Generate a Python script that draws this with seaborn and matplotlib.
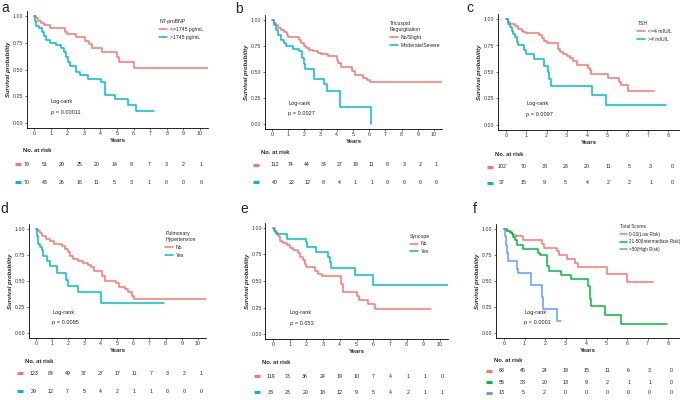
"""
Kaplan-Meier panels a-f with number-at-risk tables
"""
import matplotlib
matplotlib.use("Agg")
import pandas as pd
import matplotlib.pyplot as plt
import seaborn as sns

sns.set_theme(style="ticks")
plt.rcParams['font.family'] = ['Liberation Sans', 'DejaVu Sans']

W, H = 685, 400
RED, CYAN, GREEN, BLUE = "#F8766D", "#00BFC4", "#00BA38", "#619CFF"

# ---------------- data ----------------
# a: NT-proBNP
a_labels = ["<=1745 pg/mL", ">1745 pg/mL"]
a_low_t = [0, 0.1, 0.25, 0.45, 0.6, 0.95, 1.85, 2.0, 2.55, 3.05, 3.3, 3.5, 4.1, 5.0, 5.15, 6.0]
a_low_s = [1.0, 0.98, 0.95, 0.93, 0.92, 0.89, 0.85, 0.83, 0.80, 0.77, 0.74, 0.70, 0.66, 0.62, 0.57, 0.51]
a_low_end = 10.5
a_high_t = [0, 0.05, 0.1, 0.3, 0.5, 0.6, 0.75, 0.95, 1.35, 1.65, 1.8, 1.95, 2.05, 2.15, 2.55, 2.75,
            3.25, 4.05, 4.25, 4.9, 5.65, 6.15]
a_high_s = [1.0, 0.95, 0.91, 0.89, 0.85, 0.81, 0.78, 0.75, 0.73, 0.70, 0.66, 0.62, 0.57, 0.53, 0.48, 0.45,
            0.41, 0.38, 0.26, 0.22, 0.17, 0.11]
a_high_end = 7.25
a_risk = [[79, 51, 29, 25, 20, 14, 9, 7, 3, 2, 1],
          [70, 43, 26, 16, 11, 5, 3, 1, 0, 0, 0]]

# b: Tricuspid regurgitation
b_labels = ["No/Slight", "Moderate/Severe"]
b_low_t = [0, 0.15, 0.25, 0.4, 0.55, 0.75, 0.9, 1.0, 1.65, 1.8, 1.95, 2.1, 2.3, 2.5, 2.85, 3.05, 3.45,
           4.0, 4.1, 4.25, 4.95, 5.15, 5.6, 5.85, 6.05]
b_low_s = [1.0, 0.97, 0.95, 0.92, 0.90, 0.88, 0.86, 0.84, 0.81, 0.78, 0.75, 0.73, 0.71, 0.70, 0.68, 0.67, 0.65,
           0.62, 0.59, 0.55, 0.51, 0.47, 0.44, 0.42, 0.40]
b_low_end = 10.5
b_high_t = [0, 0.1, 0.27, 0.4, 0.53, 0.72, 0.88, 1.3, 1.65, 1.85, 1.98, 2.05, 2.57, 3.2, 3.4, 4.2, 6.13]
b_high_s = [1.0, 0.95, 0.90, 0.86, 0.81, 0.78, 0.75, 0.72, 0.70, 0.63, 0.58, 0.53, 0.43, 0.38, 0.32, 0.16, 0.0]
b_high_end = 6.13
b_risk = [[112, 74, 44, 34, 27, 18, 11, 8, 3, 2, 1],
          [40, 22, 12, 8, 4, 1, 1, 0, 0, 0, 0]]

# c: TSH
c_labels = ["<=4 mIU/L", ">4 mIU/L"]
c_low_t = [0, 0.08, 0.2, 0.44, 0.6, 0.77, 0.85, 1.0, 1.65, 1.8, 1.9, 2.0, 2.55, 2.65, 2.8, 3.0, 3.15, 3.3,
           3.5, 4.05, 4.15, 4.2, 5.05, 5.6, 5.7, 6.0]
c_low_s = [1.0, 0.97, 0.95, 0.93, 0.91, 0.89, 0.88, 0.87, 0.85, 0.82, 0.79, 0.77, 0.72, 0.69, 0.67, 0.65, 0.63, 0.60,
           0.57, 0.54, 0.52, 0.48, 0.44, 0.41, 0.38, 0.32]
c_low_end = 7.3
c_high_t = [0, 0.08, 0.12, 0.2, 0.28, 0.36, 0.44, 0.52, 0.6, 0.88, 0.97, 1.38, 1.9, 2.08, 2.14, 2.2, 4.25, 4.95]
c_high_s = [1.0, 0.97, 0.95, 0.92, 0.89, 0.86, 0.83, 0.78, 0.75, 0.71, 0.67, 0.62, 0.56, 0.50, 0.43, 0.37, 0.28, 0.19]
c_high_end = 7.9
c_risk = [[102, 70, 38, 28, 20, 11, 5, 3, 0],
          [37, 15, 9, 5, 4, 2, 2, 1, 0]]

# d: Pulmonary hypertension
d_labels = ["No", "Yes"]
d_low_t = [0, 0.1, 0.25, 0.4, 0.6, 0.85, 1.1, 1.6, 1.8, 1.95, 2.1, 2.3, 2.6, 2.9, 3.2, 3.4, 3.6, 4.1, 4.25,
           4.95, 5.1, 5.5, 5.7, 5.95, 6.05]
d_low_s = [1.0, 0.98, 0.96, 0.93, 0.90, 0.88, 0.86, 0.84, 0.81, 0.78, 0.74, 0.71, 0.69, 0.67, 0.65, 0.63, 0.60, 0.55, 0.50,
           0.48, 0.44, 0.42, 0.39, 0.36, 0.33]
d_low_end = 10.5
d_high_t = [0, 0.05, 0.14, 0.25, 0.35, 0.45, 0.7, 0.86, 1.28, 1.84, 1.95, 2.57, 4.0]
d_high_s = [1.0, 0.93, 0.86, 0.83, 0.80, 0.74, 0.69, 0.64, 0.58, 0.51, 0.45, 0.39, 0.29]
d_high_end = 7.9
d_risk = [[123, 84, 49, 37, 27, 17, 11, 7, 3, 2, 1],
          [29, 12, 7, 5, 4, 2, 1, 1, 0, 0, 0]]

# e: Syncope
e_labels = ["No", "Yes"]
e_low_t = [0, 0.12, 0.22, 0.32, 0.42, 0.52, 0.62, 0.82, 1.02, 1.22, 1.52, 1.62, 1.8, 1.9, 2.0, 2.5, 2.7, 2.95,
           4.05, 4.1, 4.2, 5.0, 5.15, 5.7, 6.1]
e_low_s = [1.0, 0.96, 0.95, 0.92, 0.88, 0.87, 0.86, 0.84, 0.81, 0.79, 0.76, 0.73, 0.70, 0.66, 0.63, 0.59, 0.57, 0.55,
           0.52, 0.47, 0.40, 0.36, 0.32, 0.28, 0.24]
e_low_end = 9.45
e_high_t = [0, 0.08, 0.16, 0.82, 1.95, 2.05, 2.57, 3.3, 3.4, 3.5, 4.9, 5.97]
e_high_s = [1.0, 0.97, 0.94, 0.90, 0.87, 0.82, 0.77, 0.73, 0.68, 0.62, 0.56, 0.46]
e_high_end = 10.45
e_risk = [[119, 73, 36, 24, 19, 10, 7, 4, 1, 1, 0],
          [33, 23, 20, 18, 12, 9, 5, 4, 2, 1, 1]]

# f: Total scores
f_labels = ["0-20(Low Risk)", "21-50(Intermediate Risk)", ">50(High Risk)"]
f_low_t = [0, 0.13, 0.3, 0.45, 0.6, 0.93, 1.85, 1.95, 2.6, 2.7, 3.05, 3.45, 3.6, 5.02, 5.98]
f_low_s = [1.0, 0.98, 0.96, 0.94, 0.93, 0.89, 0.86, 0.82, 0.79, 0.75, 0.71, 0.67, 0.63, 0.57, 0.49]
f_low_end = 7.28
f_mid_t = [0, 0.13, 0.29, 0.37, 0.46, 0.54, 0.62, 0.91, 1.67, 1.76, 2.08, 2.11, 2.21, 2.76, 3.25, 4.08,
           4.19, 4.24, 4.93, 5.69]
f_mid_s = [1.0, 0.98, 0.97, 0.95, 0.92, 0.89, 0.85, 0.81, 0.77, 0.75, 0.68, 0.64, 0.60, 0.56, 0.52, 0.45,
           0.33, 0.26, 0.17, 0.09]
f_mid_end = 7.94
f_high_t = [0, 0.05, 0.1, 0.15, 0.18, 0.65, 0.68, 1.33, 1.86, 1.92, 2.57]
f_high_s = [1.0, 0.93, 0.85, 0.77, 0.69, 0.62, 0.58, 0.46, 0.35, 0.23, 0.12]
f_high_end = 2.78
f_risk = [[68, 45, 24, 19, 15, 11, 6, 3, 0],
          [55, 33, 20, 13, 9, 2, 1, 1, 0],
          [13, 5, 2, 0, 0, 0, 0, 0, 0]]

p_values = {"a": "p = 0.00011", "b": "p = 0.0027", "c": "p = 0.0097",
            "d": "p = 0.0095", "e": "p = 0.053", "f": "p < 0.0001"}
legend_titles = {"a": "NT-proBNP", "b": "Tricuspid\nRegurgitation", "c": "TSH",
                 "d": "Pulmonary\nHypertension", "e": "Syncope", "f": "Total Scores"}


def px_axes(fig, l, t, r, b):
    return fig.add_axes([l / W, 1 - b / H, (r - l) / W, (b - t) / H])


def draw_panel(fig, key, curves, labels, colors, risks, km, risk, leg_xy, letter_xy, leg_fs=3.7):
    x0, pxyr, y1, y0, xmin, xmax, nyears = km
    span = y0 - y1
    ax = px_axes(fig, x0 + xmin * pxyr, y1 - 0.045 * span, x0 + xmax * pxyr, y0 + 0.045 * span)

    frames = []
    for (t, s, end), lab in zip(curves, labels):
        tt, ss = list(t), list(s)
        if end > tt[-1]:
            tt.append(end)
            ss.append(ss[-1])
        frames.append(pd.DataFrame({"time": tt, "surv": ss, "group": lab}))
    df = pd.concat(frames, ignore_index=True)
    sns.lineplot(data=df, x="time", y="surv", hue="group", hue_order=labels, palette=colors,
                 drawstyle="steps-post", estimator=None, sort=False, linewidth=1.1, ax=ax)

    ax.set_xlim(xmin, xmax)
    ax.set_ylim(-0.045, 1.045)
    ax.set_xticks(range(nyears + 1))
    ax.set_yticks([0, 0.25, 0.5, 0.75, 1.0])
    ax.set_yticklabels(["0.00", "0.25", "0.50", "0.75", "1.00"])
    ax.tick_params(labelsize=3.8, length=1.6, width=0.5, pad=1, color="#333333", labelcolor="#333333")
    sns.despine(ax=ax)
    for sp in ax.spines.values():
        sp.set_linewidth(0.6)
        sp.set_color("black")
    ax.set_xlabel("Years", fontsize=4.3, fontweight="bold", labelpad=1)
    ax.set_ylabel("Survival probability", fontsize=4.3, fontweight="bold", fontstyle="italic", labelpad=1)
    ax.text(1, 0.2, "Log-rank", fontsize=4.1, ha="left", va="center", color="#222222")
    ax.text(1, 0.1, p_values[key], fontsize=4.1, ha="left", va="center", color="#222222")

    sns.move_legend(ax, "upper left", bbox_to_anchor=leg_xy, title=legend_titles[key], frameon=False,
                    fontsize=leg_fs, title_fontsize=leg_fs, handlelength=1.5, handletextpad=0.6,
                    labelspacing=0.55, borderpad=0, borderaxespad=0, alignment="left")

    # number at risk table
    rx0, rpx, dash, rows = risk
    left_px, right_px = dash - 6, rx0 + nyears * rpx + 10
    rax = px_axes(fig, left_px, rows[0] - 8, right_px, rows[-1] + 8)
    rax.set_xlim((left_px - rx0) / rpx, (right_px - rx0) / rpx)
    rax.set_ylim(rows[-1] + 8, rows[0] - 8)
    rax.axis("off")
    rax.text((dash + 5 - rx0) / rpx, rows[0], "No. at risk", fontsize=4.2, fontweight="bold",
             ha="left", va="center")
    dx = (dash - rx0) / rpx
    for counts, col, yrow in zip(risks, colors, rows[1:]):
        rax.plot([dx - 3 / rpx, dx + 3 / rpx], [yrow, yrow], color=col, lw=2.2, solid_capstyle="butt")
        for yr, n in enumerate(counts):
            rax.text(yr, yrow, str(n), fontsize=3.8, ha="center", va="center", color="#222222")

    fig.text(letter_xy[0] / W, 1 - letter_xy[1] / H, key, fontsize=10, ha="left", va="baseline")


fig = plt.figure(figsize=(W / 100, H / 100), dpi=100)

draw_panel(fig, "a",
           [(a_low_t, a_low_s, a_low_end), (a_high_t, a_high_s, a_high_end)], a_labels, [RED, CYAN], a_risk,
           km=(34, 16.6, 16, 123, -0.45, 10.5, 10), risk=(27, 17.4, 18, [150, 164, 182]),
           leg_xy=(0.73, 0.93), letter_xy=(1, 12))
draw_panel(fig, "b",
           [(b_low_t, b_low_s, b_low_end), (b_high_t, b_high_s, b_high_end)], b_labels, [RED, CYAN], b_risk,
           km=(272, 16.2, 20, 124, -0.45, 10.5, 10), risk=(275, 16.1, 256, [152, 165, 182]),
           leg_xy=(0.706, 0.946), letter_xy=(235, 13))
draw_panel(fig, "c",
           [(c_low_t, c_low_s, c_low_end), (c_high_t, c_high_s, c_high_end)], c_labels, [RED, CYAN], c_risk,
           km=(506, 20.25, 19, 125, -0.4, 8.55, 8), risk=(502, 21.25, 490, [154, 167, 183]),
           leg_xy=(0.77, 0.94), letter_xy=(466, 12))
draw_panel(fig, "d",
           [(d_low_t, d_low_s, d_low_end), (d_high_t, d_high_s, d_high_end)], d_labels, [RED, CYAN], d_risk,
           km=(36, 16.2, 229, 333, -0.45, 10.5, 10), risk=(34, 16.7, 20, [361, 373, 391]),
           leg_xy=(0.77, 0.937), letter_xy=(0, 213))
draw_panel(fig, "e",
           [(e_low_t, e_low_s, e_low_end), (e_high_t, e_high_s, e_high_end)], e_labels, [RED, CYAN], e_risk,
           km=(273, 16.7, 228, 334, -0.45, 10.5, 10), risk=(271, 17.1, 256.5, [362, 376, 392]),
           leg_xy=(0.79, 0.91), letter_xy=(240, 213))
draw_panel(fig, "f",
           [(f_low_t, f_low_s, f_low_end), (f_mid_t, f_mid_s, f_mid_end), (f_high_t, f_high_s, f_high_end)],
           f_labels, [RED, GREEN, BLUE], f_risk,
           km=(504, 20.5, 229, 333, -0.4, 8.55, 8), risk=(502, 21.1, 488.5, [361, 371, 382, 393]),
           leg_xy=(0.675, 1.0), letter_xy=(473, 213), leg_fs=3.3)

fig.savefig("out.png", dpi=100)
plt.close(fig)
